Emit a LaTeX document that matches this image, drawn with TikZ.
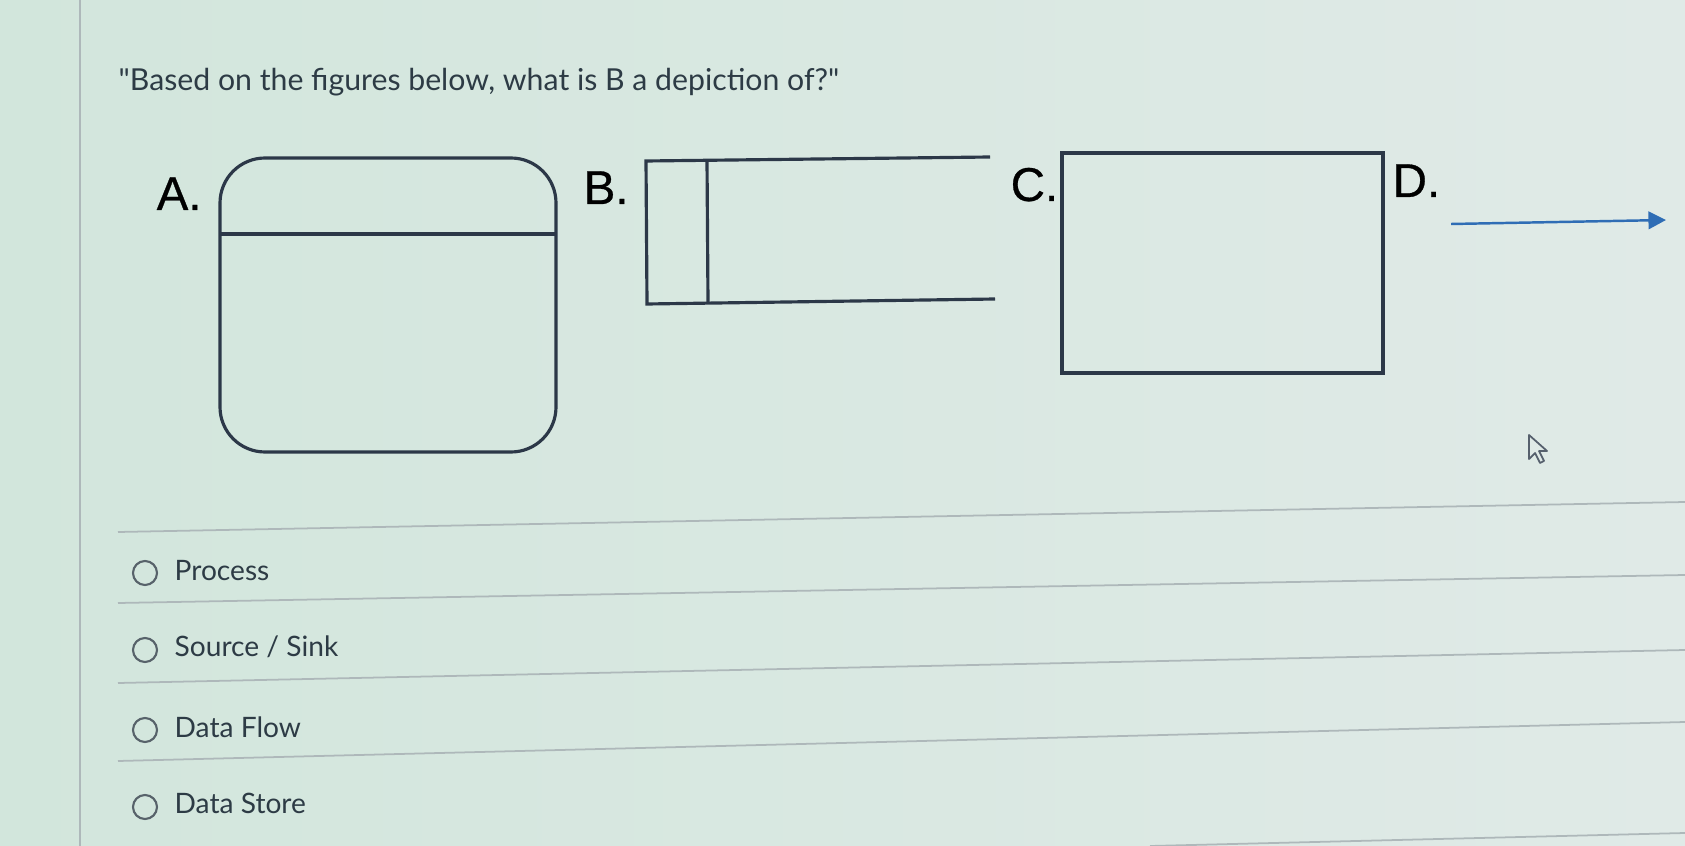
\documentclass[tikz,border=0pt]{standalone}
\usepackage{fontspec}
\setmainfont{Lato}
\newfontfamily\labelfont{Liberation Sans}[FakeBold=0.6]
\usetikzlibrary{arrows.meta}
\definecolor{pagebg}{HTML}{E0EAE7}
\definecolor{pagebgl}{HTML}{D2E6DC}
\definecolor{inktext}{HTML}{2D3B45}
\definecolor{inkline}{HTML}{2C3848}
\definecolor{flowblue}{HTML}{2F6DB5}
\definecolor{rulegray}{HTML}{AEB8BA}
\begin{document}
\begin{tikzpicture}[x=0.01cm, y=-0.01cm,
    shapeline/.style={draw=inkline, line width=0.9pt},
    letter/.style={anchor=base west, inner sep=0, text=black, font=\labelfont\fontsize{13.5}{15}\selectfont},
    option/.style={anchor=base west, inner sep=0, text=inktext, font=\fontsize{8}{10}\selectfont},
    radio/.style={circle, draw=inktext!80, line width=0.6pt, minimum size=0.24cm, inner sep=0},
    sepline/.style={draw=rulegray, line width=0.5pt}]
    % page
    \useasboundingbox (0,0) rectangle (1685,846);
    \shade[left color=pagebgl, right color=pagebg] (0,0) rectangle (1685,846);
    \draw[sepline] (80,0) -- (80,846);
    % question
    \node[option, font=\fontsize{8.6}{10}\selectfont] (question) at (118,91)
        {\textquotedbl Based on the figures below, what is B a depiction of?\textquotedbl};
    % A: process
    \node[letter] (labA) at (156,210) {A.};
    \draw[shapeline, rounded corners=0.45cm] (220,158) rectangle (556,452);
    \coordinate (a0) at (220,234);
    \coordinate (a1) at (556,234);
    \draw[shapeline] (a0) -- (a1);
    % B: data store
    \node[letter] (labB) at (583,204) {B.};
    \draw[shapeline] (990,157) -- (646,161) -- (647,304) -- (995,299);
    \coordinate (b0) at (707,161);
    \coordinate (b1) at (708,303);
    \draw[shapeline] (b0) -- (b1);
    % C: source / sink
    \node[letter] (labC) at (1010,201) {C.};
    \draw[shapeline] (1062,153) rectangle (1383,373);
    % D: data flow
    \node[letter] (labD) at (1392,197) {D.};
    \coordinate (d0) at (1451,224);
    \coordinate (d1) at (1666,220);
    \draw[flowblue, line width=0.7pt, -{Triangle[length=5pt,width=5pt]}] (d0) -- (d1);
    % cursor
    \draw[inkline!80, fill=pagebg, line width=0.5pt, line join=round]
        (1529,435) -- (1529,459) -- (1535,453) -- (1540,463) -- (1544,461) -- (1539,451) -- (1547,451) -- cycle;
    % answer rows
    \draw[sepline] (118,532) -- (1685,502);
    \draw[sepline] (118,603) -- (1685,575);
    \draw[sepline] (118,683) -- (1685,650);
    \draw[sepline] (118,761) -- (1685,722);
    \draw[sepline] (1150,846) -- (1685,833);
    \node[radio] (r1) at (145,573) {};
    \node[radio] (r2) at (145,650) {};
    \node[radio] (r3) at (145,730) {};
    \node[radio] (r4) at (145,807) {};
    \node[option] (o1) at (174,580) {Process};
    \node[option] (o2) at (174,656) {Source / Sink};
    \node[option] (o3) at (174,737) {Data Flow};
    \node[option] (o4) at (174,813) {Data Store};
\end{tikzpicture}
\end{document}
